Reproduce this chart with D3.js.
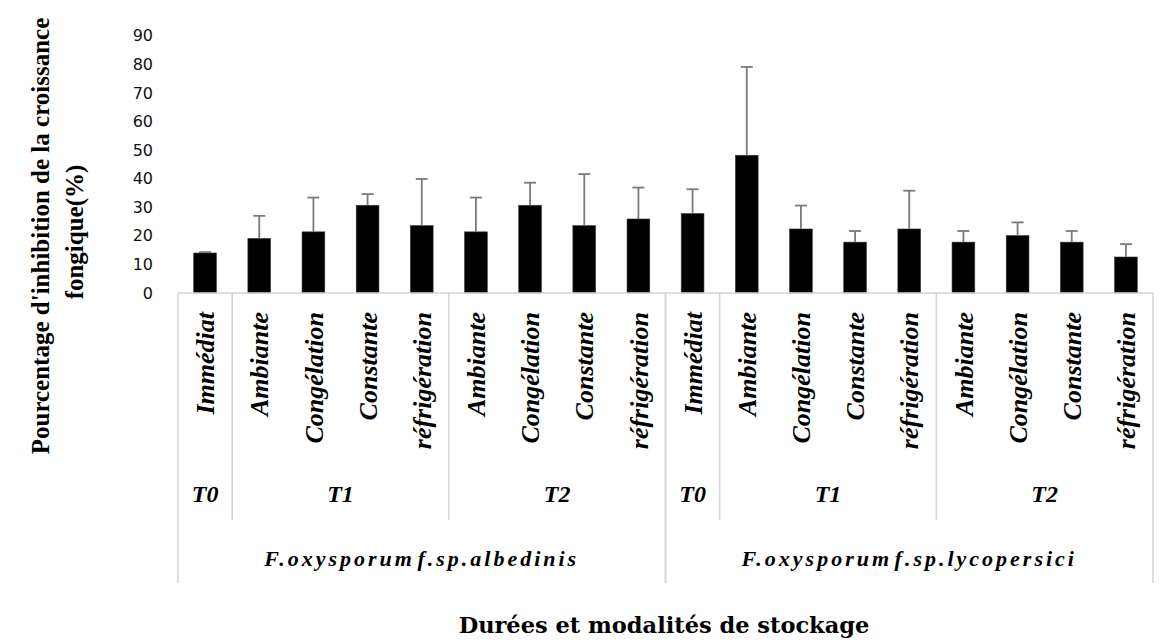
<!DOCTYPE html>
<html>
<head>
<meta charset="utf-8">
<script src="https://cdn.jsdelivr.net/npm/d3@7"></script>
<style>
  body { margin: 0; background: #fff; }
  svg { display: block; }
</style>
</head>
<body>
<svg id="chart"></svg>
<script>
let width = 1174
let height = 642

// data
let species = ['F.oxysporum f.sp.albedinis', 'F.oxysporum f.sp.lycopersici']
let periods = ['T0', 'T1', 'T2']
let modalities = {
    T0: ['Immédiat'],
    T1: ['Ambiante', 'Congélation', 'Constante', 'réfrigération'],
    T2: ['Ambiante', 'Congélation', 'Constante', 'réfrigération']
}
let albedinisValues = [14, 19.1, 21.4, 30.7, 23.6, 21.4, 30.7, 23.6, 25.9]
let albedinisErrors = [0.3, 7.9, 12, 3.9, 16.3, 12, 7.9, 18, 11]
let lycopersiciValues = [27.8, 48.2, 22.4, 17.8, 22.4, 17.8, 20.1, 17.8, 12.6]
let lycopersiciErrors = [8.5, 30.9, 8.2, 3.9, 13.4, 3.9, 4.6, 3.9, 4.5]
let yTicks = [0, 10, 20, 30, 40, 50, 60, 70, 80, 90]

let values = [albedinisValues, lycopersiciValues]
let errors = [albedinisErrors, lycopersiciErrors]

// flatten to one row per bar
let rows = []
species.forEach((sp, s) => {
    let k = 0
    periods.forEach(p => {
        modalities[p].forEach(m => {
            rows.push({ species: sp, period: p, label: m, value: values[s][k], err: errors[s][k], id: rows.length })
            k++
        })
    })
})

let svg = d3.select('#chart').attr('width', width).attr('height', height)

let plotLeft = 178, plotRight = 1153, plotTop = 35.8, plotBase = 293
let serif = "'Liberation Serif', 'Times New Roman', Times, serif"

let xScale = d3.scaleBand()
               .domain(rows.map(d => d.id))
               .range([plotLeft, plotRight])
               .padding(0)
let yScale = d3.scaleLinear()
               .domain([0, 90])
               .range([plotBase, plotTop])

let barW = xScale.bandwidth() * 0.42
let gridColor = '#d4d4d4'

// y axis (labels only)
let yAxis = d3.axisLeft(yScale).tickValues(yTicks).tickSize(0).tickPadding(25)
let yg = svg.append('g')
   .attr('transform', 'translate(' + plotLeft + ',0)')
   .call(yAxis)
yg.select('.domain').remove()
yg.selectAll('text')
  .style('font-family', "'DejaVu Sans', sans-serif")
  .style('font-size', '16px')
  .attr('fill', '#111')

// bars
svg.selectAll('rect.bar')
   .data(rows)
   .enter()
   .append('rect')
   .attr('class', 'bar')
   .attr('x', d => xScale(d.id) + (xScale.bandwidth() - barW) / 2)
   .attr('y', d => yScale(d.value))
   .attr('width', barW)
   .attr('height', d => plotBase - yScale(d.value))
   .attr('fill', '#000')
   .attr('stroke', '#3a3a3a')
   .attr('stroke-width', 0.6)

// error bars (upper only)
let errG = svg.selectAll('g.err')
   .data(rows)
   .enter()
   .append('g')
   .attr('class', 'err')
   .attr('stroke', '#7a7a7a')
   .attr('stroke-width', 1.8)
errG.append('line')
   .attr('x1', d => xScale(d.id) + xScale.bandwidth() / 2)
   .attr('x2', d => xScale(d.id) + xScale.bandwidth() / 2)
   .attr('y1', d => yScale(d.value))
   .attr('y2', d => yScale(d.value + d.err))
errG.append('line')
   .attr('x1', d => xScale(d.id) + xScale.bandwidth() / 2 - 6)
   .attr('x2', d => xScale(d.id) + xScale.bandwidth() / 2 + 6)
   .attr('y1', d => yScale(d.value + d.err))
   .attr('y2', d => yScale(d.value + d.err))

// category table lines
svg.append('line')
   .attr('x1', plotLeft).attr('x2', plotRight)
   .attr('y1', plotBase).attr('y2', plotBase)
   .attr('stroke', gridColor).attr('stroke-width', 1.5)

let speciesGroups = d3.groups(rows, d => d.species)
let periodGroups = d3.groups(rows, d => d.species + '|' + d.period)

let groupStart = g => xScale(g[1][0].id)
let groupEnd = g => xScale(g[1][g[1].length - 1].id) + xScale.bandwidth()

speciesGroups.forEach(g => {
    [groupStart(g), groupEnd(g)].forEach(x => {
        svg.append('line')
           .attr('x1', x).attr('x2', x)
           .attr('y1', plotBase).attr('y2', 583)
           .attr('stroke', gridColor).attr('stroke-width', 1.5)
    })
    svg.append('text')
       .attr('x', (groupStart(g) + groupEnd(g)) / 2)
       .attr('y', 566)
       .attr('text-anchor', 'middle')
       .style('font-family', serif)
       .style('font-weight', 'bold')
       .style('font-style', 'italic')
       .style('font-size', '22px')
       .style('letter-spacing', '3px')
       .style('word-spacing', '-6px')
       .text(g[0])
})

periodGroups.forEach(g => {
    let x0 = groupStart(g)
    let x1 = groupEnd(g)
    if (g[1][0].period !== 'T0') {
        svg.append('line')
           .attr('x1', x0).attr('x2', x0)
           .attr('y1', plotBase).attr('y2', 520)
           .attr('stroke', gridColor).attr('stroke-width', 1.5)
    }
    svg.append('text')
       .attr('x', (x0 + x1) / 2)
       .attr('y', 502)
       .attr('text-anchor', 'middle')
       .style('font-family', serif)
       .style('font-weight', 'bold')
       .style('font-style', 'italic')
       .style('font-size', '24px')
       .text(g[1][0].period)
})

// rotated modality labels
svg.selectAll('text.cat')
   .data(rows)
   .enter()
   .append('text')
   .attr('class', 'cat')
   .attr('transform', d => 'translate(' + (xScale(d.id) + xScale.bandwidth() / 2) + ',312) rotate(-90)')
   .attr('dy', '0.35em')
   .attr('text-anchor', 'end')
   .style('font-family', serif)
   .style('font-weight', 'bold')
   .style('font-style', 'italic')
   .style('font-size', '26px')
   .text(d => d.label)

// y axis title
let yTitle = svg.append('g')
   .style('font-family', serif)
   .style('font-weight', 'bold')
   .style('font-size', '25px')
   .attr('text-anchor', 'middle')
yTitle.append('text')
   .attr('transform', 'translate(40,236) rotate(-90)')
   .attr('dy', '0.35em')
   .text("Pourcentage d'inhibition de la croissance")
yTitle.append('text')
   .attr('transform', 'translate(74,232) rotate(-90)')
   .attr('dy', '0.35em')
   .text('fongique(%)')

// x axis title
svg.append('text')
   .attr('x', 664)
   .attr('y', 633)
   .attr('text-anchor', 'middle')
   .style('font-family', "'DejaVu Serif', serif")
   .style('font-weight', 'bold')
   .style('font-size', '22.5px')
   .text('Durées et modalités de stockage')
</script>
</body>
</html>
